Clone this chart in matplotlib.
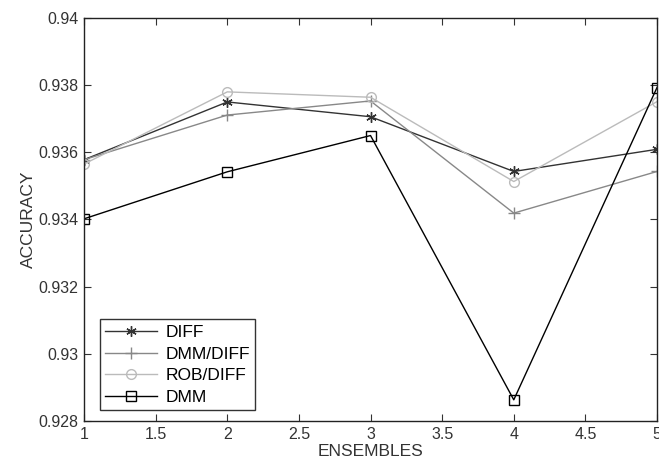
import matplotlib
matplotlib.use("Agg")
import matplotlib.pyplot as plt

plt.rcParams['font.family'] = ['Liberation Sans', 'DejaVu Sans']

ensembles = [1, 2, 3, 4, 5]
diff = [0.93578, 0.93750, 0.93706, 0.93543, 0.93609]
dmm_diff = [0.93578, 0.93711, 0.93753, 0.93419, 0.93543]
rob_diff = [0.93565, 0.93780, 0.93764, 0.93513, 0.93751]
dmm = [0.93402, 0.93542, 0.93650, 0.92863, 0.93793]

xticks = [1, 1.5, 2, 2.5, 3, 3.5, 4, 4.5, 5]
xticklabels = ['1', '1.5', '2', '2.5', '3', '3.5', '4', '4.5', '5']
yticks = [0.928, 0.93, 0.932, 0.934, 0.936, 0.938, 0.94]
yticklabels = ['0.928', '0.93', '0.932', '0.934', '0.936', '0.938', '0.94']

fig = plt.figure(figsize=(6.59, 4.59), dpi=100)
ax = fig.add_axes([0.1275, 0.0828, 0.8695, 0.878])

ax.plot(ensembles, diff, color='#333333', lw=1, marker=(6, 2, 0), ms=7.5, mew=1.0, label='DIFF')
ax.plot(ensembles, dmm_diff, color='#888888', lw=1, marker='+', ms=9, label='DMM/DIFF')
ax.plot(ensembles, rob_diff, color='#bbbbbb', lw=1, marker='o', ms=7, mfc='none', label='ROB/DIFF')
ax.plot(ensembles, dmm, color='black', lw=1, marker='s', ms=7.5, mfc='none', label='DMM')

ax.set_xlim(1, 5)
ax.set_ylim(0.928, 0.94)
ax.set_xticks(xticks)
ax.set_xticklabels(xticklabels)
ax.set_yticks(yticks)
ax.set_yticklabels(yticklabels)
ax.tick_params(direction='in', top=True, right=True, labelsize=11.5, length=5,
               color='#333333', labelcolor='#333333', pad=4)
for s in ax.spines.values():
    s.set_color('#222222')
    s.set_linewidth(1)

ax.set_xlabel('ENSEMBLES', fontsize=12.5, color='#333333', labelpad=2)
ax.set_ylabel('ACCURACY', fontsize=12.5, color='#333333', labelpad=2)

leg = ax.legend(loc='lower left', bbox_to_anchor=(0.012, 0.005), fontsize=12.5, frameon=True,
                fancybox=False, edgecolor='black', handlelength=3.0, borderpad=0.3,
                labelspacing=0.38, handletextpad=0.5)
leg.get_frame().set_linewidth(1)

fig.savefig('out.png', dpi=100)
